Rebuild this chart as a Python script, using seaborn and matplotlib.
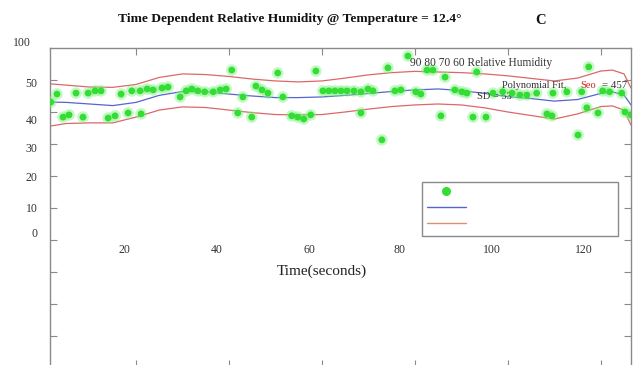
import numpy as np
import pandas as pd
import seaborn as sns
import matplotlib
matplotlib.use("Agg")
import matplotlib.pyplot as plt
from matplotlib.lines import Line2D
from matplotlib.transforms import blended_transform_factory

# ---- measured humidity readings -------------------------------------------
time_s = [1.7, 3.0, 7.1, 9.7, 11.2, 12.5, 16.8, 19.1,
          20.9, 22.4, 23.7, 25.6, 26.9, 29.5, 30.8, 32.0,
          33.3, 34.8, 36.6, 38.1, 39.4, 40.6, 43.0, 45.8,
          47.1, 48.4, 50.5, 51.6, 58.7, 60.2, 61.5, 62.8,
          64.1, 65.4, 66.9, 68.4, 69.9, 71.0, 74.2, 75.7,
          77.0, 78.5, 80.2, 81.3, 82.6, 83.9, 86.5, 88.6,
          90.1, 91.2, 93.3, 96.8, 98.9, 100.9, 102.6, 104.1,
          106.2, 109.7, 112.7, 115.9, 117.4, 120.4, 121.9, 124.5,
          4.3, 5.6, 8.6, 14.0, 15.5, 18.3, 21.1, 41.9,
          44.9, 53.5, 54.8, 56.1, 57.6, 68.4, 72.9, 85.6,
          92.5, 95.3, 108.4, 109.5, 115.1, 117.0, 119.4, 125.2,
          126.5]
humidity = [43.1, 45.6, 45.9, 45.9, 46.6, 46.6, 45.6, 46.6,
            46.6, 47.2, 46.9, 47.5, 47.8, 44.7, 46.6, 47.2,
            46.6, 46.3, 46.3, 46.9, 47.2, 53.1, 44.7, 48.1,
            46.9, 45.9, 52.2, 44.7, 52.8, 46.6, 46.6, 46.6,
            46.6, 46.6, 46.6, 46.3, 47.2, 46.6, 53.8, 46.6,
            46.9, 57.5, 46.3, 45.6, 53.1, 53.1, 50.9, 46.9,
            46.3, 45.9, 52.5, 45.9, 46.3, 45.9, 45.3, 45.3,
            45.9, 45.9, 46.3, 46.3, 54.1, 46.6, 46.3, 45.9,
            38.4, 39.1, 38.4, 38.1, 38.8, 39.7, 39.4, 39.7,
            38.4, 38.8, 38.4, 37.8, 39.1, 39.7, 31.3, 38.8,
            38.4, 38.4, 39.4, 38.8, 32.8, 41.3, 39.7, 40.0,
            39.1]

# ---- polynomial fit and +/- SD envelope ------------------------------------
fit_time = [1.5, 5, 10, 15, 20, 25, 30, 35, 40, 45, 50, 55, 60, 65,
            70, 75, 80, 85, 90, 95, 100, 105, 110, 115, 120, 122.5, 125, 126.5]
fit_rh = [43.1, 43.0, 42.5, 42.0, 43.0, 45.2, 46.4, 46.3, 45.6, 45.0, 44.5, 44.5, 44.7, 45.2,
          45.8, 46.4, 46.9, 47.2, 46.7, 45.8, 44.8, 44.2, 43.4, 43.9, 45.8, 46.3, 45.3, 42.2]
sd_upper = [48.8, 48.4, 47.8, 47.7, 48.6, 50.8, 51.9, 51.7, 51.1, 50.3, 49.7, 49.4, 49.7, 50.6,
            51.6, 52.3, 52.7, 52.5, 52.3, 51.9, 51.3, 50.5, 49.7, 50.6, 52.8, 53.1, 51.9, 47.5]
sd_lower = [35.6, 36.4, 36.6, 36.6, 38.4, 40.6, 41.6, 41.4, 40.6, 39.8, 39.2, 39.1, 39.2, 40.0,
            40.9, 41.7, 42.2, 42.5, 42.2, 41.3, 40.0, 38.9, 37.8, 39.4, 41.7, 41.9, 40.6, 35.9]

# ---- axis ticks and labels ---------------------------------------------------
x_tick_marks = [20, 40, 60, 80, 100, 120]
x_label_text = ["20", "40", "60", "80", "100", "120"]
x_label_pos = [17.6, 37.4, 57.4, 76.8, 96.6, 116.4]
y_tick_marks = [50, 40, 30, 20, 10, 0, -10, -20, -30]
y_label_text = ["50", "40", "30", "20", "10", "0"]
y_label_pos = [49.1, 37.5, 28.75, 19.7, 10.3, 2.2]

GREEN = "#33dd33"
BLUE = "#5565d0"
RED = "#dc6868"
LEGEND_RED = "#d8936c"
GREY = "#8a8a8a"

sns.set_theme(style="white")
plt.rcParams["font.family"] = ["Liberation Serif", "DejaVu Serif"]

W, H = 641, 365
fig = plt.figure(figsize=(W / 100, H / 100), dpi=100)
ax = fig.add_axes([50 / W, -2 / H, 581 / W, 319 / H])

pts = pd.DataFrame({"time": time_s, "rh": humidity})
fit = pd.DataFrame({"time": fit_time, "fit": fit_rh, "up": sd_upper, "lo": sd_lower})

# soft halo under each point, then the point itself
sns.scatterplot(data=pts, x="time", y="rh", ax=ax, color="#7ef07e", s=70,
                alpha=0.45, edgecolor="none", zorder=3, legend=False)
sns.scatterplot(data=pts, x="time", y="rh", ax=ax, color=GREEN, s=24,
                edgecolor="none", zorder=4, legend=False)

sns.lineplot(data=fit, x="time", y="fit", ax=ax, color=BLUE, lw=0.9,
             sort=False, estimator=None, zorder=2)
sns.lineplot(data=fit, x="time", y="up", ax=ax, color=RED, lw=0.9,
             sort=False, estimator=None, zorder=2)
sns.lineplot(data=fit, x="time", y="lo", ax=ax, color=RED, lw=0.9,
             sort=False, estimator=None, zorder=2)

ax.set_xlim(1.5, 126.5)
ax.set_ylim(-39.7, 60)

# frame
for side in ax.spines.values():
    side.set_color(GREY)
    side.set_linewidth(1.0)

# tick marks (minor) and offset tick labels (major, no marks)
ax.set_xticks([])
ax.set_xticks(x_tick_marks, minor=True)
ax.set_yticks(y_label_pos, labels=y_label_text)
ax.set_yticks(y_tick_marks, minor=True)
ax.tick_params(which="minor", direction="in", length=5, width=0.8, color=GREY,
               top=True, bottom=True, left=True, right=True)
ax.tick_params(axis="y", which="major", length=0, pad=9, labelsize=8.5,
               labelcolor="#333333")
ax.set_xlabel("")
ax.set_ylabel("")

# x labels sit just below the zero line
for pos, txt in zip(x_label_pos, x_label_text):
    ax.text(pos, -3.1, txt, ha="center", va="center", fontsize=8.5, color="#333333")
ax.text(60.0, -9.7, "Time(seconds)", ha="center", va="center", fontsize=11,
        color="#222222")

# top label of the y axis
trans = blended_transform_factory(fig.transFigure, ax.transData)
ax.text(22 / W, 61.6, "100", transform=trans, ha="center", va="center",
        fontsize=8.5, color="#333333", clip_on=False)

# in-plot annotations
ax.text(78.9, 55.3, "90 80 70 60 Relative Humidity", fontsize=8.3,
        color="#333333", va="center", ha="left")
ax.text(98.7, 48.4, "Polynomial Fit,", fontsize=7.5, color="#333333",
        va="center", ha="left")
ax.text(115.5, 48.4, "Seo", fontsize=7.5, color="#d02020", va="center", ha="left")
ax.text(120.3, 48.4, "= 457", fontsize=7.8, color="#333333", va="center",
        ha="left", clip_on=False)
ax.text(93.4, 44.7, "SD = 53", fontsize=7.5, color="#333333", va="center", ha="left")

# legend with markers only
handles = [
    Line2D([], [], marker="o", ls="", color=GREEN, markersize=5.5),
    Line2D([], [], color=BLUE, lw=1.0),
    Line2D([], [], color=LEGEND_RED, lw=1.0),
]
x0 = (422 - 50) / 581
w = 196 / 581
ytop = (367 - 182) / 319
leg = ax.legend(handles, ["", "", ""], loc="upper left",
                bbox_to_anchor=(x0, 0, w, ytop), mode="expand",
                borderaxespad=0, frameon=True, fancybox=False,
                edgecolor=GREY, framealpha=1, fontsize=9,
                handlelength=3.1, handletextpad=0, labelspacing=0.32,
                borderpad=0.38)
leg.get_frame().set_linewidth(1.0)

fig.text(290 / W, 1 - 19 / H,
         "Time Dependent Relative Humidity @ Temperature = 12.4\u00b0",
         ha="center", va="center", fontsize=9.7, fontweight="bold", color="#111111")
fig.text(541 / W, 1 - 20 / H, "C", ha="center", va="center", fontsize=10.5,
         fontweight="bold", color="#111111")

fig.savefig("out.png", dpi=100)
